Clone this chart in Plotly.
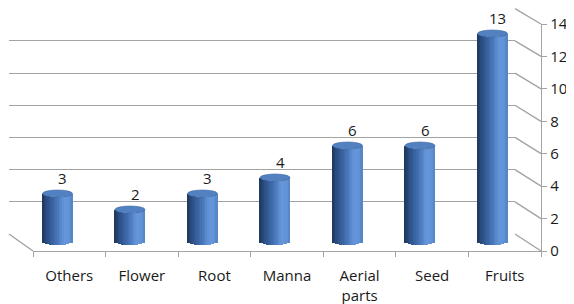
import numpy as np
import plotly.graph_objects as go

# ---- data ----
categories = ["Others", "Flower", "Root", "Manna", "Aerial parts", "Seed", "Fruits"]
tick_labels = ["Others", "Flower", "Root", "Manna", "Aerial<br>parts", "Seed", "Fruits"]
values = [3, 2, 3, 4, 6, 6, 13]
y_ticks = [0, 2, 4, 6, 8, 10, 12, 14]

W, H = 574, 304
OFF = 8  # page body margin offset of the figure in the window
FONT = "Open Sans"
GRID = "#a3a3a3"
TXT = "#1a1a1a"

def px(xs):
    return (xs - OFF) / W

def py(ys):
    return 1 - (ys - OFF) / H

# geometry (window pixels)
back_left, back_right, back_y0, back_y14 = 9, 515, 234, 8.7
front_left, front_right, front_y0, front_y14 = 33, 541, 251, 24
bar_c0, bar_step = 57.5, 72.5
bar_zero, bar_scale = 241.5, 16.0
bar_w = 30 / bar_step           # cylinder width in category units
ell = 3.5 / bar_scale           # ellipse half height in value units

fig = go.Figure()

fig.add_trace(go.Scatter(x=[None], y=[None], xaxis="x", yaxis="y", showlegend=False, hoverinfo="skip"))
fig.add_trace(go.Scatter(x=tick_labels, y=[None] * len(tick_labels), xaxis="x3", yaxis="y3",
                         showlegend=False, hoverinfo="skip", mode="markers"))

stops = [(-1.0, (30, 55, 92)), (-0.6, (46, 82, 138)), (0.0, (70, 116, 182)),
         (0.45, (100, 150, 218)), (0.8, (98, 148, 214)), (1.0, (82, 130, 196))]

def shade(u):
    for (u0, c0), (u1, c1) in zip(stops[:-1], stops[1:]):
        if u0 <= u <= u1:
            t = (u - u0) / (u1 - u0)
            return "rgb(%d,%d,%d)" % tuple(round(a + (b - a) * t) for a, b in zip(c0, c1))
    return "rgb(%d,%d,%d)" % stops[-1][1]

N = 18
xs = list(range(len(values)))
for j in range(N):
    ul = -1 + 2 * j / N
    ur = -1 + 2 * (j + 1) / N
    uc = (ul + ur) / 2
    uo = max(abs(ul), abs(ur))
    tops = [v - ell * np.sqrt(max(0.0, 1 - uo ** 2)) for v in values]
    bases = [-ell * np.sqrt(max(0.0, 1 - uc ** 2)) for _ in values]
    fig.add_trace(go.Bar(
        x=xs, y=[t - b for t, b in zip(tops, bases)], base=bases,
        width=bar_w / N * 1.15, offset=ul * bar_w / 2 - bar_w / N * 0.07,
        marker=dict(color=shade(uc), line=dict(width=0)),
        xaxis="x2", yaxis="y2", showlegend=False, hoverinfo="skip",
    ))

shapes = []
for i, v in enumerate(values):
    shapes.append(dict(type="circle", xref="x2", yref="y2",
                       x0=i - bar_w / 2, x1=i + bar_w / 2, y0=v - ell, y1=v + ell,
                       fillcolor="#5281c2", line=dict(color="#41689f", width=0.6), layer="above"))

for v in y_ticks:
    yb = back_y0 + (back_y14 - back_y0) * v / 14
    yf = front_y0 + (front_y14 - front_y0) * v / 14
    shapes.append(dict(type="line", xref="paper", yref="paper",
                       x0=px(back_right), y0=py(yb), x1=px(front_right), y1=py(yf),
                       line=dict(color=GRID, width=1.4), layer="below"))
shapes.append(dict(type="line", xref="paper", yref="paper",
                   x0=px(back_left), y0=py(back_y0), x1=px(front_left), y1=py(front_y0),
                   line=dict(color=GRID, width=1.4), layer="below"))

annotations = []
for i, v in enumerate(values):
    annotations.append(dict(x=i, y=v + ell, xref="x2", yref="y2", text=str(v),
                            showarrow=False, yanchor="bottom", xshift=5, yshift=0,
                            font=dict(family=FONT, size=15, color=TXT)))

fx0 = bar_c0 - OFF
fy0 = bar_zero - OFF
r0 = -(H - fy0) / bar_scale
r1 = fy0 / bar_scale

fig.update_layout(
    width=W, height=H, margin=dict(l=0, r=0, t=0, b=0, autoexpand=False),
    paper_bgcolor="white", plot_bgcolor="rgba(0,0,0,0)",
    barmode="overlay", bargap=0, showlegend=False,
    shapes=shapes, annotations=annotations,
    xaxis=dict(domain=[px(back_left), px(back_right)], range=[0, 1], visible=False, anchor="y",
               automargin=False),
    yaxis=dict(domain=[py(back_y0), py(back_y14)], range=[-0.002, 14.002], dtick=2, tick0=0,
               showgrid=True, gridcolor=GRID, gridwidth=1.4, zeroline=False,
               showticklabels=False, ticks="", showline=False, anchor="x", automargin=False),
    xaxis2=dict(domain=[0, 1], range=[-fx0 / bar_step, (W - fx0) / bar_step],
                visible=False, anchor="y2", automargin=False),
    yaxis2=dict(domain=[0, 1], range=[r0, r1], visible=False, anchor="x2", automargin=False),
    xaxis3=dict(domain=[px(front_left), px(front_right)], anchor="y3", type="category",
                categoryorder="array", categoryarray=tick_labels, range=[-0.5, len(values) - 0.5],
                showline=True, linecolor=GRID, linewidth=1.4, ticks="outside", ticklen=5,
                tickcolor=GRID, tickwidth=1.4, tickson="boundaries", showgrid=False,
                tickfont=dict(family=FONT, size=15, color=TXT), ticklabelstandoff=11,
                automargin=False),
    yaxis3=dict(domain=[py(front_y0), py(front_y14)], anchor="x3", side="right",
                range=[0, 14], tickvals=y_ticks, showline=True, linecolor=GRID, linewidth=1.4,
                ticks="outside", ticklen=5, tickcolor=GRID, tickwidth=1.4, showgrid=False,
                zeroline=False, tickfont=dict(family=FONT, size=15, color=TXT),
                ticklabelstandoff=0, automargin=False),
)

fig.write_html("out.html")
